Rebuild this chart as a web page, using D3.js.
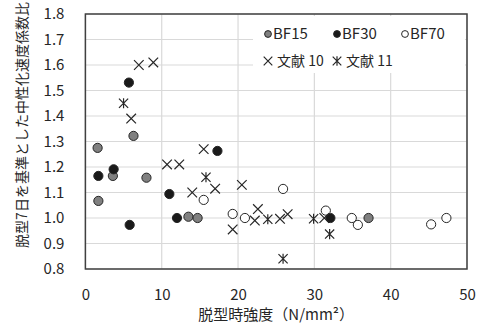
<!DOCTYPE html>
<html><head><meta charset="utf-8">
<script src="https://cdn.jsdelivr.net/npm/d3@7"></script>
<style>
html,body{margin:0;padding:0;background:#fff;}
svg text{font-family:"Noto Sans CJK JP","Noto Sans",sans-serif;fill:#262626;}
</style></head>
<body><svg id="c" width="483" height="324"></svg>
<script>
const xTicks = [0,10,20,30,40,50];
const yTicks = [0.8,0.9,1.0,1.1,1.2,1.3,1.4,1.5,1.6,1.7,1.8];
const xTitle = "脱型時強度（N/mm²）";
const yTitle = "脱型7日を基準とした中性化速度係数比";

const bf15 = [[1.6,1.275],[6.3,1.322],[3.6,1.165],[8.0,1.158],[1.7,1.067],[13.5,1.005],[14.7,1.0],[37.1,1.0]];
const bf30 = [[5.7,1.531],[3.7,1.191],[1.7,1.165],[11.0,1.094],[12.0,1.0],[5.8,0.973],[17.3,1.263],[32.1,1.0]];
const bf70 = [[15.5,1.071],[19.3,1.016],[20.9,1.0],[25.9,1.114],[31.5,1.029],[34.9,1.0],[35.7,0.973],[45.3,0.975],[47.3,1.0]];
const ref10 = [[7.0,1.60],[8.9,1.61],[6.0,1.39],[10.7,1.21],[12.3,1.21],[15.5,1.27],[14.0,1.10],[17.0,1.115],[20.5,1.13],[19.3,0.955],[22.6,1.035],[22.2,0.99],[25.5,0.997],[26.5,1.015],[31.3,1.0]];
const ref11 = [[5.0,1.45],[15.8,1.16],[23.9,0.995],[29.9,0.997],[32.0,0.937],[25.9,0.84]];
const legendNames = ["BF15","BF30","BF70","文献 10","文献 11"];

const svg = d3.select("#c");
const L=85.4, R=467, T=14, B=269;
const x = d3.scaleLinear().domain([0,50]).range([L,R]);
const y = d3.scaleLinear().domain([0.8,1.8]).range([B,T]);

// gridlines
const g = svg.append("g");
g.selectAll(".vg").data(xTicks).join("line")
  .attr("x1",d=>x(d)).attr("x2",d=>x(d)).attr("y1",T).attr("y2",B)
  .attr("stroke","#d9d9d9").attr("stroke-width",1.2);
g.selectAll(".hg").data(yTicks).join("line")
  .attr("x1",L).attr("x2",R).attr("y1",d=>y(d)).attr("y2",d=>y(d))
  .attr("stroke","#d9d9d9").attr("stroke-width",1.2);

// legend background
svg.append("rect").attr("x",253).attr("y",16).attr("width",212).attr("height",57).attr("fill","#fff");

// axes labels via d3 axes (no lines)
const xa = svg.append("g").attr("transform",`translate(0,${B})`)
  .call(d3.axisBottom(x).tickValues(xTicks).tickSize(0).tickPadding(20).tickFormat(d3.format("d")));
xa.select(".domain").remove();
xa.selectAll("text").attr("font-size",15).attr("font-family",null).attr("fill","#262626");
const ya = svg.append("g").attr("transform",`translate(${L},0)`)
  .call(d3.axisLeft(y).tickValues(yTicks).tickSize(0).tickPadding(21).tickFormat(d3.format(".1f")));
ya.select(".domain").remove();
ya.selectAll("text").attr("font-size",15).attr("font-family",null).attr("fill","#262626");

// frame
svg.append("rect").attr("x",L).attr("y",T).attr("width",R-L).attr("height",B-T)
  .attr("fill","none").attr("stroke","#404040").attr("stroke-width",1.5);

// markers
const stroke="#262626";
function circles(data, fill, r){
  svg.append("g").selectAll("circle").data(data).join("circle")
    .attr("cx",d=>x(d[0])).attr("cy",d=>y(d[1])).attr("r",r)
    .attr("fill",fill).attr("stroke",stroke).attr("stroke-width",1);
}
function crossPath(s){return `M${-s},${-s}L${s},${s}M${-s},${s}L${s},${-s}`;}
function starPath(s){return `M${-s},${-s}L${s},${s}M${-s},${s}L${s},${-s}M0,${-s*1.1}L0,${s*1.1}`;}
function paths(data, p){
  svg.append("g").selectAll("path").data(data).join("path")
    .attr("transform",d=>`translate(${x(d[0])},${y(d[1])})`)
    .attr("d",p).attr("fill","none").attr("stroke",stroke).attr("stroke-width",1.2);
}
circles(bf15,"#808080",4.6);
circles(bf30,"#1a1a1a",4.6);
circles(bf70,"#fff",4.6);
paths(ref10, crossPath(4.8));
paths(ref11, starPath(4.6));

// legend
const lg = svg.append("g");
const items = [
  {n:legendNames[0],x:268,y:34,t:"c",f:"#808080"},
  {n:legendNames[1],x:337,y:34,t:"c",f:"#1a1a1a"},
  {n:legendNames[2],x:405,y:34,t:"c",f:"#fff"},
  {n:legendNames[3],x:268,y:61,t:"x"},
  {n:legendNames[4],x:337,y:61,t:"s"}
];
items.forEach(it=>{
  if(it.t==="c"){
    lg.append("circle").attr("cx",it.x).attr("cy",it.y).attr("r",3.4).attr("fill",it.f).attr("stroke",stroke).attr("stroke-width",1);
    lg.append("text").attr("x",it.x+5).attr("y",it.y).attr("dy","0.36em").attr("font-size",15).text(it.n);
  } else {
    lg.append("path").attr("transform",`translate(${it.x},${it.y})`).attr("d",it.t==="x"?crossPath(4.3):starPath(4.3))
      .attr("fill","none").attr("stroke",stroke).attr("stroke-width",1.2);
    lg.append("text").attr("x",it.x+9).attr("y",it.y).attr("dy","0.36em").attr("font-size",14).text(it.n);
  }
});

// titles
svg.append("text").attr("x",(L+R)/2).attr("y",315).attr("dy","0.36em").attr("text-anchor","middle")
  .attr("font-size",15).text(xTitle);
svg.append("text").attr("transform","translate(22,125) rotate(-90)").attr("dy","0.36em").attr("text-anchor","middle")
  .attr("font-size",14).text(yTitle);
</script></body></html>
